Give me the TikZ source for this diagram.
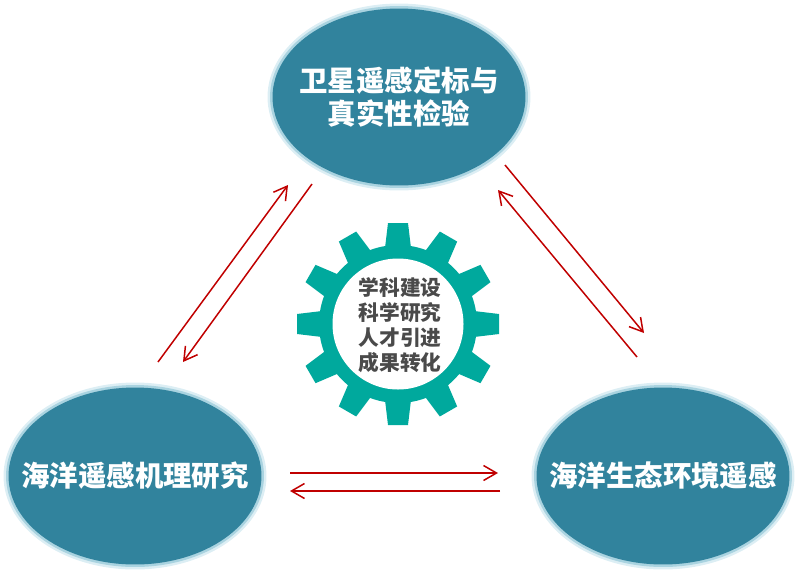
\documentclass[tikz,border=0pt]{standalone}
\usepackage{fontspec}
\newfontfamily\cjk{Noto Sans CJK SC}
\usetikzlibrary{arrows.meta, shapes.geometric}

\definecolor{oceanblue}{HTML}{31839D}
\definecolor{glowdark}{HTML}{A9D3E0}
\definecolor{glowlight}{HTML}{DCEEF4}
\definecolor{gearteal}{HTML}{00A99D}
\definecolor{arrowred}{HTML}{C00000}
\definecolor{geartext}{HTML}{4A4A4A}

\tikzset{
    topic/.style = {
        ellipse, inner ysep = 0pt, inner xsep = -0.5cm, fill = oceanblue, text = white,
        minimum width = 5.06cm, minimum height = 3.54cm, align = center,
        font = \cjk\bfseries\fontsize{16.2}{18.8}\selectfont,
        preaction = {draw = glowlight, line width = 0.2cm},
        preaction = {draw = glowdark, line width = 0.1cm}
    },
    flow/.style = {->, draw = arrowred}
}

\begin{document}
\begin{tikzpicture}[%
        > = {Straight Barb[length = 2.6mm, width = 3mm]},
        line width = 0.3mm,
        x = 0.02cm,
        y = -0.02cm
    ]

        \useasboundingbox (0, 0) rectangle (797, 572);

        % The three topics.
        \node[topic] (calibration) at (399, 97) {卫星遥感定标与\\[-0.5pt]真实性检验};
        \node[topic] (mechanism) at (135, 476) {海洋遥感机理研究};
        \node[topic] (ecology) at (663, 476) {海洋生态环境遥感};

        % Free ends of the arrows.
        \coordinate (a1) at (158, 362);
        \coordinate (a2) at (288, 185);
        \coordinate (b1) at (312, 184);
        \coordinate (b2) at (183, 362);
        \coordinate (c1) at (505, 165);
        \coordinate (c2) at (644, 333);
        \coordinate (d1) at (637, 357);
        \coordinate (d2) at (498, 190);
        \coordinate (e1) at (290, 473);
        \coordinate (e2) at (498, 473);
        \coordinate (f1) at (500, 491);
        \coordinate (f2) at (290, 491);

        % Draw the arrows.
        \foreach\from/\to in{a1/a2, b1/b2, c1/c2, d1/d2, e1/e2, f1/f2}{%
            \draw[flow] (\from) to (\to);
        }

        % Gear teeth.
        \begin{scope}[shift = {(398, 324)}]
            \fill[gearteal] (0, 0) circle (79);
            \foreach\n in{0, 30, ..., 330}{%
                \fill[gearteal, rotate = \n] (-13, -76) -- (-10, -101) -- (10, -101) -- (13, -76) -- cycle;
            }
        \end{scope}

        % Gear centre.
        \fill[white] (398, 324) circle (65.5);
        \node[inner sep = 0pt, align = center, text = geartext,
            font = \cjk\bfseries\fontsize{11.8}{14.2}\selectfont] (gear) at (400, 325)
            {学科建设\\科学研究\\人才引进\\成果转化};
    \end{tikzpicture}
\end{document}
